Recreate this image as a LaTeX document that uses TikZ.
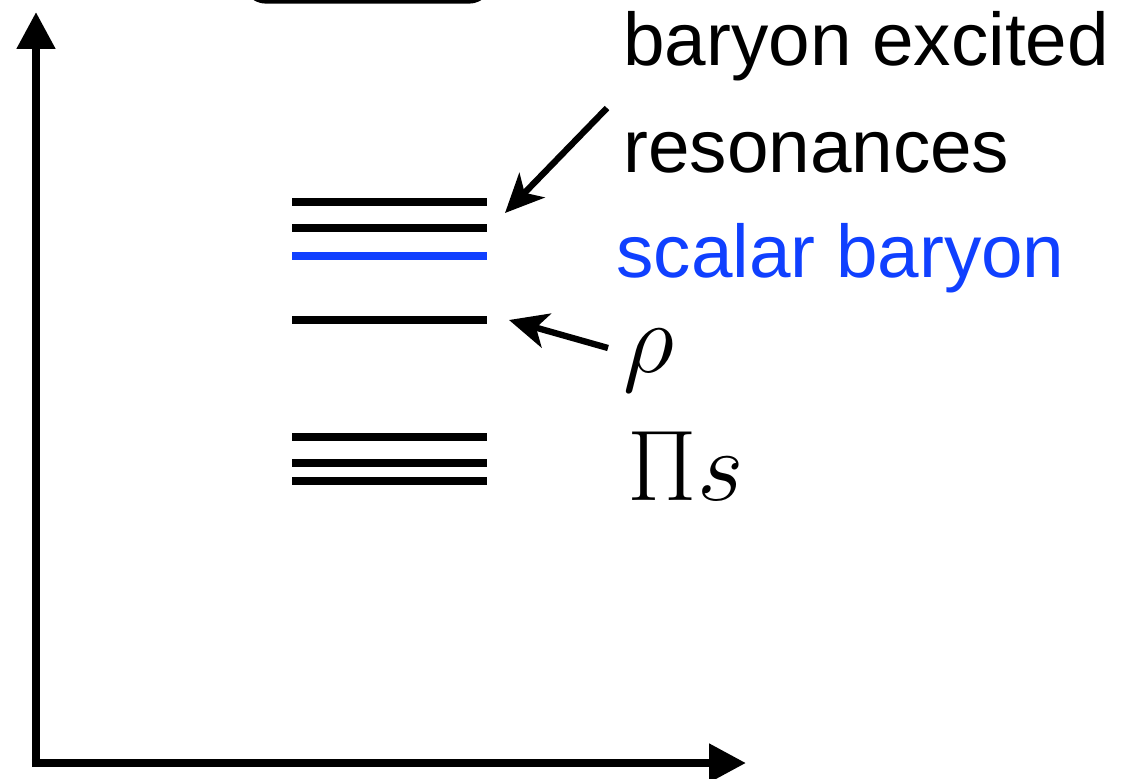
\documentclass[tikz,border=0pt]{standalone}
\usepackage{fontspec}
\setsansfont{Liberation Sans}
\usetikzlibrary{arrows.meta}
\definecolor{scalarblue}{RGB}{16,64,255}
\tikzset{
  level/.style={line width=4pt},
  axis/.style={line width=4.6pt, -{Triangle[length=21pt,width=21pt]}},
  pointer/.style={line width=3.6pt, -{Stealth[length=22pt,width=20pt,inset=6pt]}},
  lbl/.style={anchor=base west, inner sep=0pt, font=\sffamily\fontsize{42.5}{50}\selectfont},
  mlbl/.style={anchor=base west, inner sep=0pt, font=\Huge, scale=2.3}
}
\begin{document}
\begin{tikzpicture}[x=0.02cm,y=-0.02cm]
\clip (0,0) rectangle (1132,778);
% partial box at top
\draw[line width=3pt, rounded corners=12pt] (245,-60) rectangle (490,1);
% axes
\coordinate (O) at (36,763);
\coordinate (ytop) at (36,12);
\coordinate (xend) at (746,763);
\draw[axis] ([yshift=-2.3pt]O) -- (ytop);
\draw[axis] ([xshift=-2.3pt]O) -- (xend);
% levels
\foreach \y/\c in {202/black,228/black,256/scalarblue,320/black,437/black,463/black,481/black}
  \draw[level,\c] (292,\y) -- (487,\y);
% labels
\node[lbl] (bex) at (623,65) {baryon excited};
\node[lbl] (res) at (623,172) {resonances};
\node[lbl,text=scalarblue] (sb) at (616,277) {scalar baryon};
\node[mlbl] (rho) at (623,372) {$\rho$};
\node[mlbl] (pis) at (627,500) {$\Pi s$};
% pointers
\coordinate (a1s) at (607,108);
\coordinate (a1e) at (505,213);
\coordinate (a2s) at (608,348);
\coordinate (a2e) at (509,320);
\draw[pointer] (a1s) -- (a1e);
\draw[pointer] (a2s) -- (a2e);
\end{tikzpicture}
\end{document}
